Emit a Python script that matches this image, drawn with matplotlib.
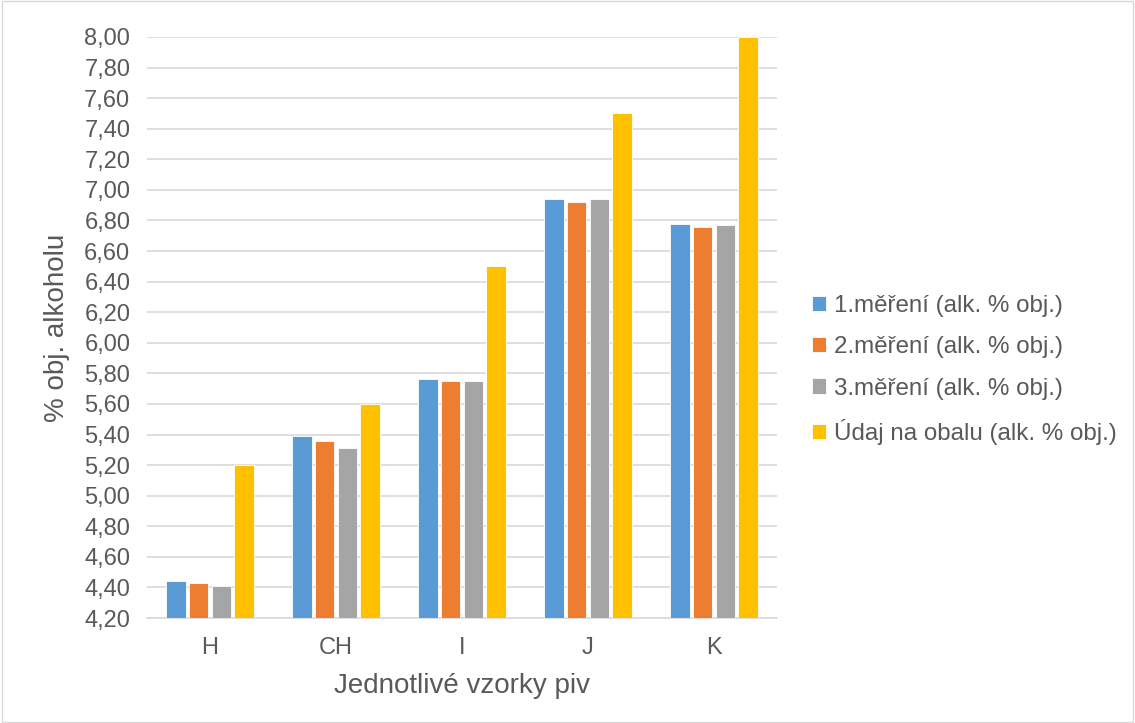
import matplotlib
matplotlib.use("Agg")
import matplotlib.pyplot as plt
import numpy as np
from matplotlib.ticker import FuncFormatter, MultipleLocator

plt.rcParams['font.family'] = ['Liberation Sans', 'DejaVu Sans']

categories = ["H", "CH", "I", "J", "K"]
series_names = ["1.měření (alk. % obj.)", "2.měření (alk. % obj.)",
                "3.měření (alk. % obj.)", "Údaj na obalu (alk. % obj.)"]
mereni1 = [4.44, 5.39, 5.76, 6.94, 6.78]
mereni2 = [4.43, 5.36, 5.75, 6.92, 6.76]
mereni3 = [4.41, 5.31, 5.75, 6.94, 6.77]
udaj = [5.20, 5.60, 6.50, 7.50, 8.00]
colors = ["#5B9BD5", "#ED7D31", "#A5A5A5", "#FFC000"]

fig = plt.figure(figsize=(11.35, 7.23), dpi=100)
ax = fig.add_axes([147/1135, 1-618/723, (777-147)/1135, (618-37)/723])

x = np.arange(len(categories))
spacing = 0.18
width = 0.155
for i, (vals, c, name) in enumerate(zip([mereni1, mereni2, mereni3, udaj], colors, series_names)):
    ax.bar(x + (i - 1.5) * spacing, np.array(vals) - 4.2, width=width, bottom=4.2,
           color=c, label=name, edgecolor='white', linewidth=0.6, zorder=3)

ax.set_xlim(-0.5, len(categories) - 0.5)
ax.set_ylim(4.2, 8.0)
ax.yaxis.set_major_locator(MultipleLocator(0.2))
ax.yaxis.set_major_formatter(FuncFormatter(lambda v, p: f"{v:.2f}".replace('.', ',')))
ax.set_xticks(x)
ax.set_xticklabels(categories)
ax.grid(axis='y', color='#D9D9D9', linewidth=1.2, zorder=0)
for s in ['top', 'right', 'left']:
    ax.spines[s].set_visible(False)
ax.spines['bottom'].set_color('#D9D9D9')
ax.spines['bottom'].set_linewidth(1.2)
ax.tick_params(axis='both', colors='#595959', labelsize=17, length=0)
ax.tick_params(axis='y', pad=12)
ax.tick_params(axis='x', pad=14)
ax.set_ylabel("% obj. alkoholu", fontsize=20, color='#595959', labelpad=10)
ax.set_xlabel("Jednotlivé vzorky piv", fontsize=20, color='#595959', labelpad=10)

leg = fig.legend(loc='center left', bbox_to_anchor=(790/1135, 1-370/723), frameon=False,
                 fontsize=17.4, labelcolor='#595959', handlelength=0.6, handleheight=0.6,
                 handletextpad=0.3, labelspacing=0.8)

fig.patches.append(plt.Rectangle((0.002, 0.002), 0.996, 0.996, transform=fig.transFigure,
                                 fill=False, edgecolor='#D9D9D9', linewidth=1))
fig.savefig("out.png", dpi=100)
